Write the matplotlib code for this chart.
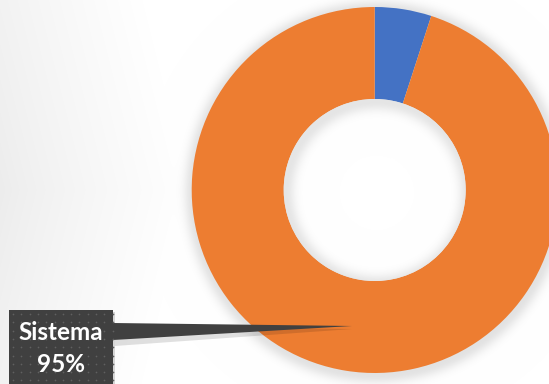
import matplotlib
matplotlib.use("Agg")
import matplotlib.pyplot as plt
import numpy as np
from matplotlib.patches import Rectangle, Polygon, Circle

labels = ['Otros', 'Sistema']
values = [5, 95]
colors = ['#4472C4', '#ED7D31']

W, H = 549, 384
fig = plt.figure(figsize=(W / 100, H / 100), dpi=100)

cx, cy, r_out, r_in = 374.7, 190.0, 183.0, 91.0

# background: light gray at the left fading to white, with a soft halo
bg = fig.add_axes([0, 0, 1, 1], zorder=0)
bg.set_xlim(0, W)
bg.set_ylim(H, 0)
bg.axis('off')
xx, yy = np.meshgrid(np.arange(W) + 0.5, np.arange(H) + 0.5)
t = np.clip((xx + 0.25 * np.abs(yy - 190)) / 190.0, 0, 1)
shade = 0.925 + 0.075 * t ** 0.8
d = np.hypot(xx - cx - 1, yy - cy - 2) - r_out
halo = np.where(d > 0, np.exp(-(d / 9.0) ** 2), 1.0)
shade = shade * (1 - 0.11 * halo)
bg.imshow(np.dstack([shade] * 3), extent=(0, W, H, 0), aspect='auto',
          interpolation='bilinear')

# donut
ax = fig.add_axes([(cx - r_out) / W, (H - cy - r_out) / H,
                   2 * r_out / W, 2 * r_out / H], zorder=1)
wedges, _ = ax.pie(values, colors=colors, startangle=90, counterclock=False,
                   radius=1, wedgeprops=dict(width=1 - r_in / r_out,
                                             linewidth=0))
ax.set_xlim(-1, 1)
ax.set_ylim(-1, 1)
ax.set_aspect('equal')
ax.axis('off')

# hole with a faint inner shadow
n = 400
hx, hy = np.meshgrid(np.linspace(-1, 1, n), np.linspace(-1, 1, n))
rin = r_in / r_out
dh = rin - np.hypot(hx - 0.01, hy + 0.015)
hole = 1 - 0.10 * np.exp(-(np.clip(dh, 0, None) / 0.05) ** 2)
img = ax.imshow(np.dstack([hole] * 3), extent=(-1, 1, -1, 1), origin='lower',
                interpolation='bilinear', zorder=3)
img.set_clip_path(Circle((0, 0), rin, transform=ax.transData))
ax.set_xlim(-1, 1)
ax.set_ylim(-1, 1)

# callout for the large slice
ov = fig.add_axes([0, 0, 1, 1], zorder=2)
ov.set_xlim(0, W)
ov.set_ylim(H, 0)
ov.axis('off')
ov.patch.set_alpha(0)

box_x0, box_x1, box_y0 = 9, 113, 310
ov.add_patch(Polygon([(box_x1 + 2, 326), (352, 329), (box_x1 + 2, 346)],
                     closed=True, color='#000000', alpha=0.12, lw=0))
ov.add_patch(Rectangle((box_x0 + 2, box_y0 + 2), box_x1 - box_x0, 90,
                       color='#000000', alpha=0.15, lw=0))
ov.add_patch(Polygon([(box_x1, 323), (352, 326), (box_x1, 340)],
                     closed=True, color='#404040', lw=0))
ov.add_patch(Rectangle((box_x0, box_y0), box_x1 - box_x0, 90,
                       color='#404040', lw=0))
dx = np.arange(box_x0 + 4, box_x1, 8.3)
dy = np.arange(box_y0 + 4, H, 8.3)
gx, gy = np.meshgrid(dx, dy)
ov.scatter(gx.ravel(), gy.ravel(), s=1.5, color='#606060', lw=0)

ov.text((box_x0 + box_x1) / 2, 332, labels[1], color='white', fontsize=17.5,
        fontweight='bold', ha='center', va='center', family='Lato')
ov.text((box_x0 + box_x1) / 2, 364, f'{values[1]}%', color='white',
        fontsize=17.5, fontweight='bold', ha='center', va='center',
        family='Lato')

fig.savefig('out.png', dpi=100)
